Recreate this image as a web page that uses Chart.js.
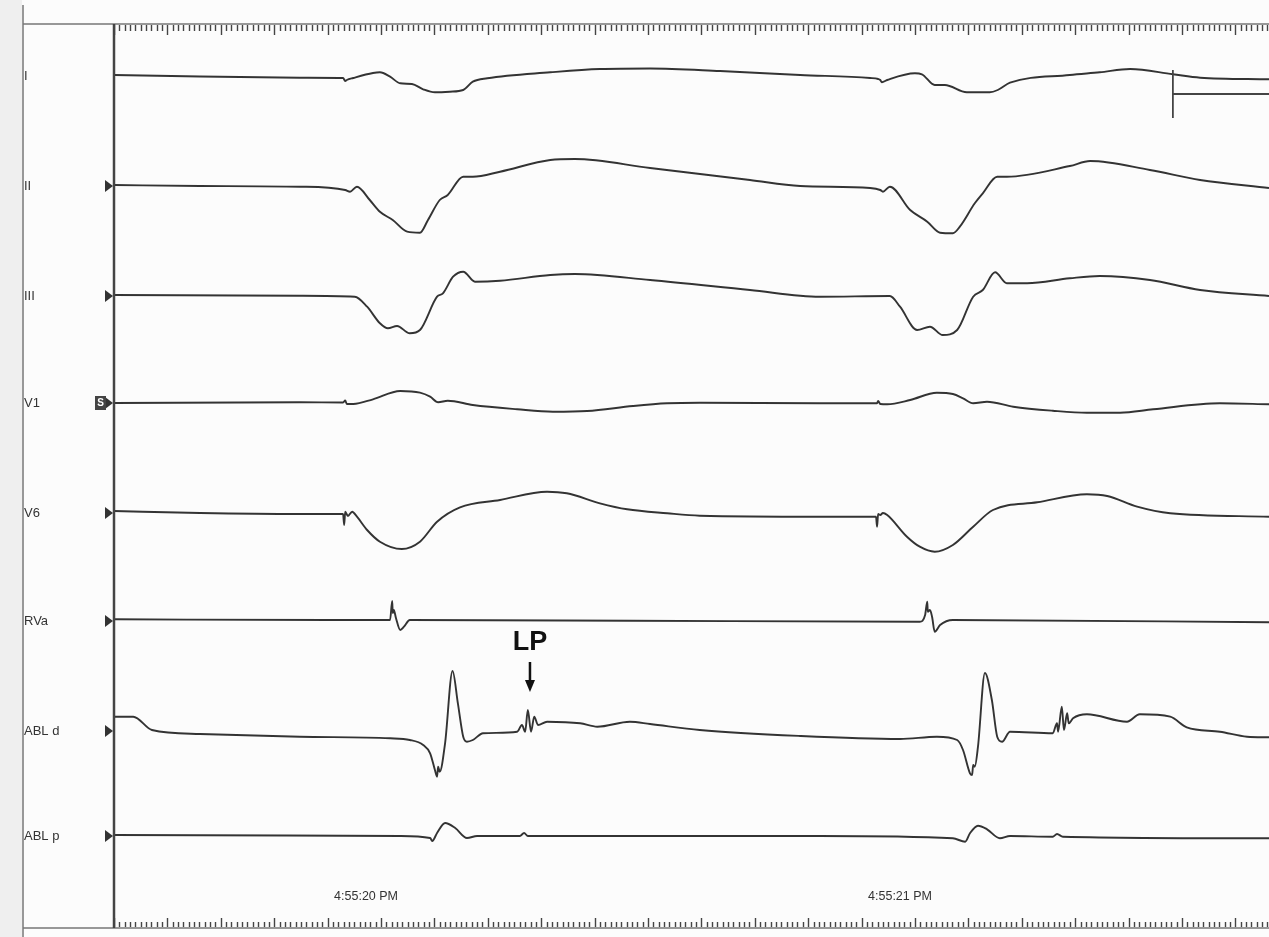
<!DOCTYPE html>
<html>
<head>
<meta charset="utf-8">
<title>EP recording</title>
<script src="https://cdn.jsdelivr.net/npm/chart.js@4.4.0/dist/chart.umd.min.js"></script>
<style>
html, body { margin: 0; padding: 0; background: #fcfcfc; }
canvas { display: block; }
</style>
</head>
<body>
<canvas id="ecg" width="1269" height="937"></canvas>
<script>
// channel names, top to bottom
var channels = ['I', 'II', 'III', 'V1', 'V6', 'RVa', 'ABL d', 'ABL p'];

// [time ms, amplitude] (amplitude positive = up)
var leadI = [[0,1],[161,-0.5],[348,-1.7],[423,-2],[429,-2],[433,-5],[436,-4],[448,-2],[485,3],[498,3.7],[517,-0.7],[536,-7.3],[558,-8],[579,-13.3],[601,-16.3],[629,-15.7],[654,-14],[672,-5.7],[699,-2.3],[817,3.7],[910,7],[1004,7.5],[1135,5],[1285,1],[1416,-2],[1431,-3],[1435,-4],[1438,-6.3],[1448,-4],[1500,2.7],[1513,1.7],[1537,-9],[1556,-9],[1597,-16.3],[1640,-16.3],[1655,-14],[1678,-6.7],[1790,1],[1846,3.7],[1903,7],[1983,1.7],[2034,-1.7],[2163,-3.3]];
var leadII = [[0,1],[161,0],[348,-0.7],[433,-4],[442,-5.7],[455,-0.7],[479,-14],[498,-25.7],[522,-34],[549,-45.7],[573,-46.7],[588,-34],[610,-14],[625,-9],[654,9.3],[672,9.3],[723,14.3],[817,26],[863,27],[1004,18],[1191,6],[1285,0],[1416,-2],[1435,-4],[1440,-5.7],[1453,-0.7],[1491,-24],[1523,-35.7],[1547,-46.7],[1571,-47.3],[1584,-40.7],[1612,-17.3],[1627,-7.3],[1654,9.3],[1672,9.3],[1790,20],[1828,25],[1940,16],[2034,6],[2163,-2]];
var leadIII = [[0,1],[348,0.3],[451,-0.7],[474,-10.7],[498,-27.3],[513,-32.3],[530,-30],[554,-37.3],[573,-34],[605,-0.7],[616,2.7],[635,19.3],[654,24.3],[676,14.3],[723,15.3],[817,21],[863,22],[1004,16],[1191,6],[1322,-0.7],[1453,0],[1472,-10.7],[1504,-34],[1528,-30.7],[1552,-39],[1579,-34],[1609,-0.7],[1627,6],[1650,23.7],[1672,12.7],[1710,12.7],[1790,17.7],[1846,20],[1940,16],[2034,6],[2163,0]];
var leadV1 = [[0,0],[348,0.7],[429,0.5],[433,2.5],[436,-1],[448,-1],[485,3.7],[536,12],[573,10.3],[592,6.3],[607,0.7],[625,2.3],[672,-2],[755,-6.3],[822,-8.7],[886,-8],[972,-3],[1036,-0.3],[1097,0.3],[1322,-0.3],[1429,-0.3],[1431,2],[1435,-1],[1448,-1.3],[1491,3],[1541,10.3],[1571,9],[1590,4.7],[1609,-0.3],[1635,1.3],[1684,-3.7],[1758,-7.7],[1822,-9.7],[1884,-9.7],[1946,-6.3],[2071,-0.3],[2163,-1.3]];
var leadV6 = [[0,2],[161,0],[348,-1],[429,-1],[431,-12],[433,1.3],[438,-3],[446,1.3],[455,-3.7],[474,-17],[498,-28.7],[539,-36],[573,-28.7],[605,-8.7],[648,5.7],[723,13],[811,21.3],[848,19.7],[910,9.7],[961,3.7],[1036,-0.3],[1097,-2.7],[1322,-3.7],[1427,-3.7],[1429,-13.7],[1431,-1],[1435,-2],[1440,0],[1448,-2],[1485,-23.7],[1509,-33.7],[1537,-38.7],[1571,-32],[1609,-13.7],[1646,3],[1729,10.7],[1822,18.7],[1860,17],[1916,6.3],[1978,-0.3],[2163,-3.7]];
var rva = [[0,1.7],[405,1],[517,1],[521,20],[522,8],[524,11],[528,3],[536,-9],[543,-5.7],[554,1],[966,0.3],[1509,-0.7],[1519,6],[1523,19.3],[1524,9.3],[1528,11],[1532,4.3],[1537,-10.7],[1547,-4],[1571,1],[2163,-1.3]];
var ablD = [[0,14.3],[36,14.3],[71,1],[161,-3],[348,-5.7],[517,-7.3],[554,-9],[579,-14],[592,-22.3],[601,-39],[605,-45.7],[607,-35.7],[610,-40.7],[620,-12.3],[634,60],[644,27.7],[654,-5.7],[661,-10.7],[672,-9],[691,-2.3],[755,-0.7],[764,6],[770,-0.7],[775,21],[781,-0.7],[787,14.3],[794,6],[811,9.3],[873,7.7],[905,4.3],[966,9.3],[1004,7],[1097,1],[1285,-5],[1472,-8],[1541,-5.7],[1579,-9],[1590,-19],[1603,-42.3],[1607,-44],[1609,-34],[1612,-35.7],[1618,-15.7],[1631,58],[1644,31],[1654,-5.7],[1663,-10.7],[1678,-0.7],[1758,-2.3],[1766,7.7],[1768,-0.7],[1775,24.3],[1779,1],[1785,17.7],[1788,7.7],[1796,12.7],[1822,16.7],[1897,9.3],[1921,16.7],[1978,14.3],[2009,3.7],[2071,-0.7],[2122,-5.7],[2163,-6.3]];
var ablP = [[0,1],[536,0],[592,-2],[596,-5],[605,3],[620,13],[639,8],[661,-2],[680,0],[760,0],[768,3],[775,0],[1322,0],[1571,-2.3],[1594,-5.7],[1603,2.7],[1618,10.3],[1635,6.7],[1659,-2.3],[1678,0],[1758,-0.7],[1766,2],[1777,-0.7],[2163,-2.3]];

var traces = [leadI, leadII, leadIII, leadV1, leadV6, rva, ablD, ablP];

// time stamps on the strip
var timeLabels = ['4:55:20 PM', '4:55:21 PM'];
var timeLabelAt = [472, 1472];
var lpTime = 779;
var calTime = 1983;

// layout (y axis runs in page rows, 0 at top)
var rowY = [76, 186, 296, 403, 513, 621, 731, 836];
var stripEnd = 2163;
var ink = '#333';

var sets = [];
for (var i = 0; i < traces.length; i++) {
    sets.push({
        label: channels[i],
        data: traces[i].map(function(p) { return { x: p[0], y: this.base - p[1] }; }, { base: rowY[i] }),
        borderColor: ink,
        borderWidth: 1.9,
        pointRadius: 0,
        cubicInterpolationMode: 'monotone'
    });
}

function seg(c, x1, y1, x2, y2) {
    c.beginPath(); c.moveTo(x1, y1); c.lineTo(x2, y2); c.stroke();
}

var paper = {
    id: 'paper',
    beforeDraw: function(chart) {
        var c = chart.ctx;
        c.save();
        c.fillStyle = '#fcfcfc';
        c.fillRect(0, 0, chart.width, chart.height);
        c.fillStyle = '#efefef';
        c.fillRect(0, 0, 22, chart.height);
        c.restore();
    },
    afterDatasetsDraw: function(chart) {
        var c = chart.ctx, xs = chart.scales.x, ys = chart.scales.y;
        var left = xs.getPixelForValue(0), right = chart.width;
        c.save();

        // frame
        c.strokeStyle = '#777'; c.lineWidth = 1.5;
        seg(c, 23, 5, 23, 937);
        seg(c, 23, ys.getPixelForValue(24), right, ys.getPixelForValue(24));
        seg(c, 23, ys.getPixelForValue(928), right, ys.getPixelForValue(928));
        c.strokeStyle = '#444'; c.lineWidth = 2.5;
        seg(c, left, ys.getPixelForValue(24), left, ys.getPixelForValue(928));

        // 10 ms rulers top and bottom
        c.strokeStyle = '#444'; c.lineWidth = 1.4;
        for (var t = 0; t <= stripEnd; t += 10) {
            var x = Math.round(xs.getPixelForValue(t)) + 0.5;
            var major = t % 100 === 0;
            seg(c, x, 25, x, major ? 35 : 31);
            seg(c, x, 927, x, major ? 918 : 922);
        }

        // channel markers
        c.fillStyle = '#333';
        for (var i = 1; i < rowY.length; i++) {
            var y = ys.getPixelForValue(rowY[i]);
            c.beginPath();
            c.moveTo(left - 9, y - 6);
            c.lineTo(left - 1, y);
            c.lineTo(left - 9, y + 6);
            c.closePath();
            c.fill();
            if (channels[i] === 'V1') {
                c.fillStyle = '#444';
                c.fillRect(left - 19, y - 7, 11, 14);
                c.fillStyle = '#fff';
                c.font = 'bold 10px "Liberation Sans", Arial';
                c.textAlign = 'center'; c.textBaseline = 'middle';
                c.fillText('S', left - 13.5, y + 0.5);
                c.fillStyle = '#333';
            }
        }

        // time stamps
        c.fillStyle = '#333';
        c.font = '12.5px "Liberation Sans", Arial';
        c.textAlign = 'center'; c.textBaseline = 'middle';
        for (var k = 0; k < timeLabels.length; k++) {
            c.fillText(timeLabels[k], xs.getPixelForValue(timeLabelAt[k]), ys.getPixelForValue(897));
        }

        // calibration bar on lead I
        var xb = xs.getPixelForValue(calTime);
        c.strokeStyle = '#444'; c.lineWidth = 1.8;
        seg(c, xb, ys.getPixelForValue(70), xb, ys.getPixelForValue(118));
        seg(c, xb, ys.getPixelForValue(94), right, ys.getPixelForValue(94));

        // LP annotation
        var xl = xs.getPixelForValue(lpTime);
        c.fillStyle = '#111';
        c.font = 'bold 27px "Liberation Sans", Arial';
        c.textAlign = 'center'; c.textBaseline = 'alphabetic';
        c.fillText('LP', xl, ys.getPixelForValue(650));
        c.strokeStyle = '#111'; c.lineWidth = 2.5;
        seg(c, xl, ys.getPixelForValue(662), xl, ys.getPixelForValue(684));
        c.beginPath();
        c.moveTo(xl - 5, ys.getPixelForValue(680));
        c.lineTo(xl + 5, ys.getPixelForValue(680));
        c.lineTo(xl, ys.getPixelForValue(692));
        c.closePath();
        c.fill();

        c.restore();
    }
};

var ecg = new Chart(document.getElementById('ecg'), {
    type: 'line',
    data: { datasets: sets },
    options: {
        responsive: false,
        animation: false,
        devicePixelRatio: 1,
        layout: { padding: { left: 24, top: 0, right: 0, bottom: 0 } },
        plugins: { legend: { display: false }, tooltip: { enabled: false } },
        scales: {
            x: { type: 'linear', min: 0, max: stripEnd, display: false },
            y: {
                min: 0, max: 937, reverse: true,
                grid: { display: false },
                border: { display: false },
                afterFit: function(s) { s.width = 90; s.paddingTop = 0; s.paddingBottom = 0; },
                afterBuildTicks: function(s) { s.ticks = rowY.map(function(v) { return { value: v }; }); },
                ticks: {
                    autoSkip: false,
                    crossAlign: 'far',
                    color: '#333',
                    font: { family: '"Liberation Sans", Arial', size: 13 },
                    callback: function(v, i) { return channels[i]; }
                }
            }
        }
    },
    plugins: [paper]
});
</script>
</body>
</html>
